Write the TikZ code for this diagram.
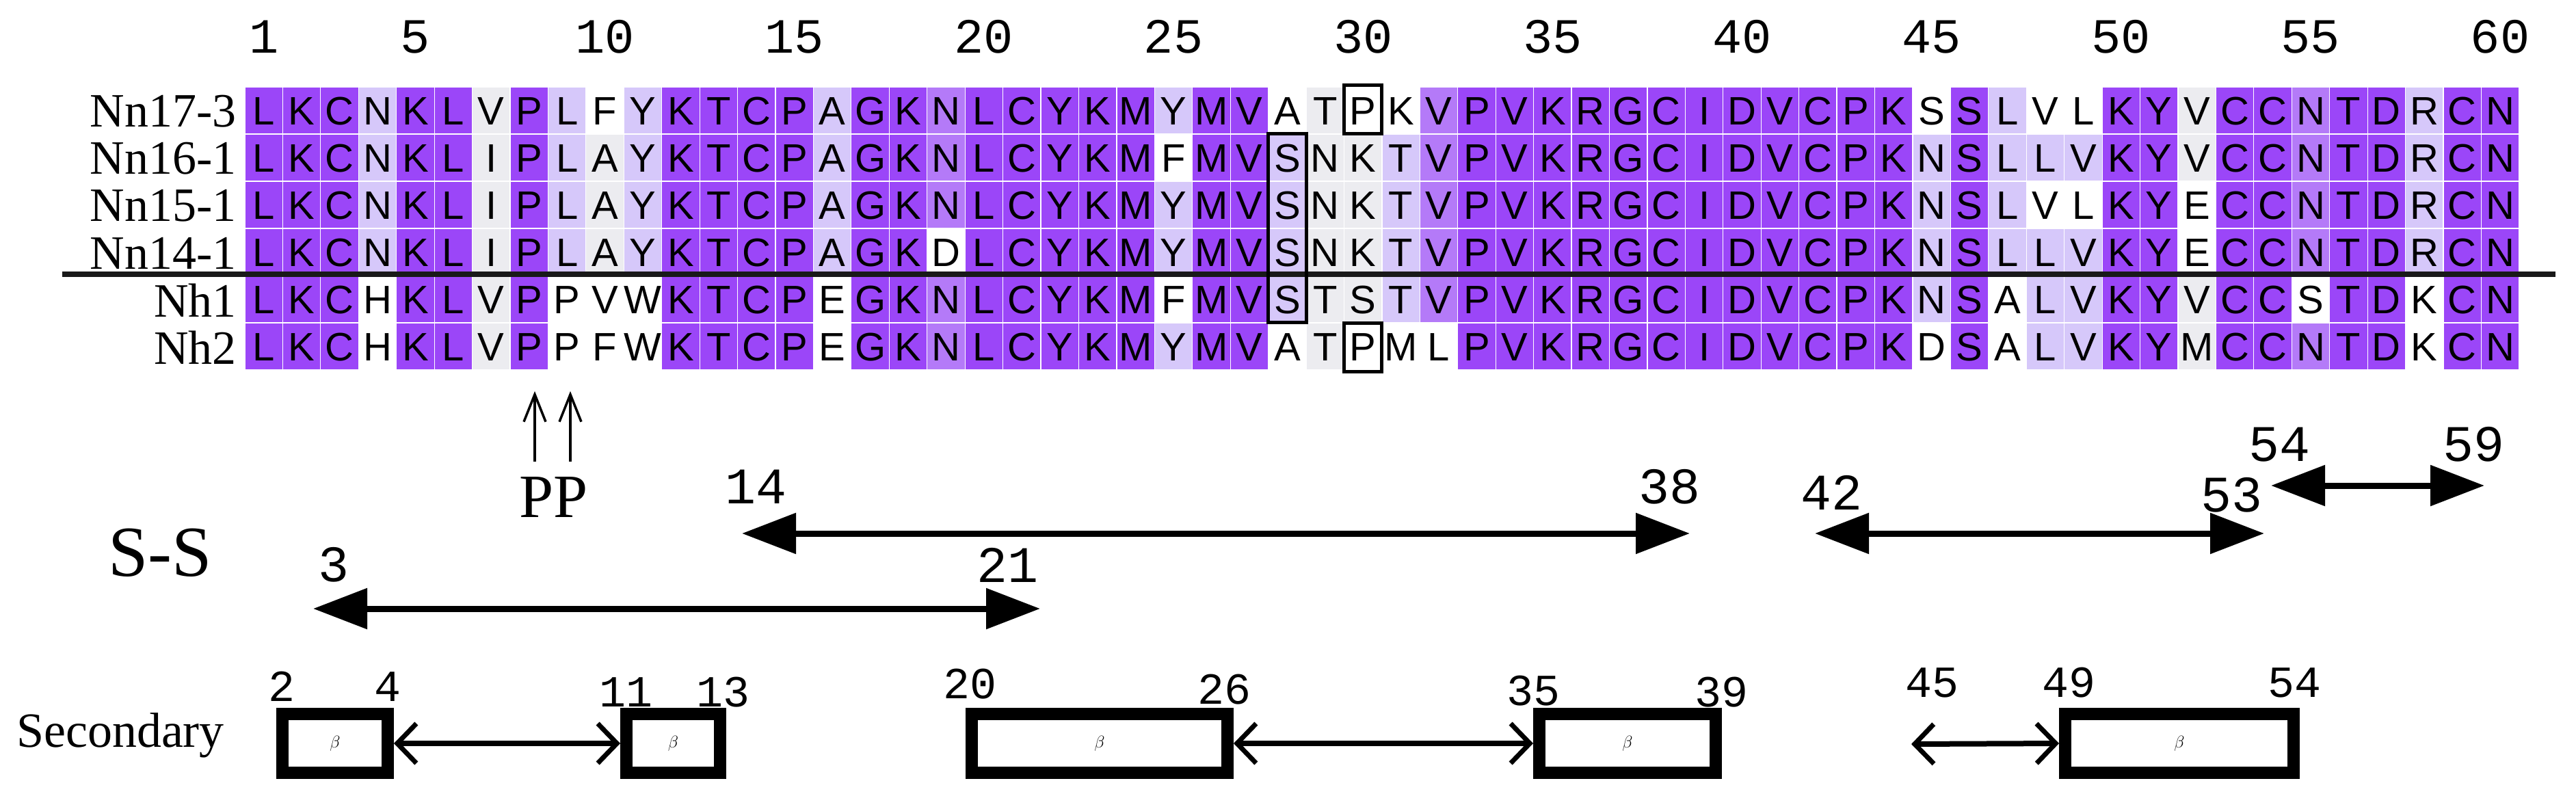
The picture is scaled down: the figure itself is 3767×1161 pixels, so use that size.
\documentclass[tikz,border=0pt]{standalone}
\usepackage{fontspec}
\usepackage{xstring}
\setmainfont{Liberation Serif}
\newfontfamily\seqfont{Liberation Sans}
\newfontfamily\numfont{Liberation Mono}
\usetikzlibrary{arrows.meta}
\definecolor{cD}{RGB}{155,70,248}
\definecolor{cM}{RGB}{180,122,248}
\definecolor{cL}{RGB}{214,200,250}
\definecolor{cG}{RGB}{236,236,240}
\definecolor{cW}{RGB}{255,255,255}
\tikzset{
  seqletter/.style={font=\seqfont\fontsize{58}{60}\selectfont,inner sep=0pt},
  rowlabel/.style={font=\fontsize{70}{72}\selectfont,anchor=east,inner sep=0pt},
  colnum/.style={font=\numfont\fontsize{72}{74}\selectfont,inner sep=0pt},
  secnum/.style={font=\numfont\fontsize{65}{67}\selectfont,inner sep=0pt},
  ssnum/.style={font=\numfont\fontsize{75}{77}\selectfont,inner sep=0pt},
  ssarrow/.style={line width=9pt,{Triangle[length=79pt,width=58pt]}-{Triangle[length=79pt,width=58pt]}},
  secarrow/.style={line width=8pt,{Straight Barb[length=28pt,width=58pt,line width=7pt]}-{Straight Barb[length=28pt,width=58pt,line width=7pt]}},
  betabox/.style={draw,line width=18pt,inner sep=0pt,font=\fontsize{65}{67}\selectfont},
  ppar/.style={line width=3.5pt,-{Straight Barb[length=40pt,width=32pt,line width=3.5pt]}},
  mark box/.style={draw,line width=5pt}
}
\begin{document}
\begin{tikzpicture}[x=1pt,y=-1pt]
\useasboundingbox (0,0) rectangle (3767,1161);
\def\cw{55.43}
\def\xo{358}
% alignment cells
\foreach \lab/\seq/\col/\top [count=\r] in {
 Nn17-3/LKCNKLVPLFYKTCPAGKNLCYKMYMVATPKVPVKRGCIDVCPKSSLVLKYVCCNTDRCN/DDDLDDGDLWLDDDDLDDMDDDDDLDDWGWWMDDDDDDDDDDDDWDLWWDDGDDMDDLDD/127,
 Nn16-1/LKCNKLIPLAYKTCPAGKNLCYKMFMVSNKTVPVKRGCIDVCPKNSLLVKYVCCNTDRCN/DDDLDDGDLGLDDDDLDDMDDDDDWDDLGGLMDDDDDDDDDDDDLDLLLDDGDDMDDLDD/196,
 Nn15-1/LKCNKLIPLAYKTCPAGKNLCYKMYMVSNKTVPVKRGCIDVCPKNSLVLKYECCNTDRCN/DDDLDDGDLGLDDDDLDDMDDDDDLDDLGGLMDDDDDDDDDDDDLDLWWDDWDDMDDLDD/265,
 Nn14-1/LKCNKLIPLAYKTCPAGKDLCYKMYMVSNKTVPVKRGCIDVCPKNSLLVKYECCNTDRCN/DDDLDDGDLGLDDDDLDDWDDDDDLDDLGGLMDDDDDDDDDDDDLDLLLDDWDDMDDLDD/334,
 Nh1/LKCHKLVPPVWKTCPEGKNLCYKMFMVSTSTVPVKRGCIDVCPKNSALVKYVCCSTDKCN/DDDWDDGDWWWDDDDWDDMDDDDDWDDLGGLMDDDDDDDDDDDDLDWLLDDGDDWDDWDD/403,
 Nh2/LKCHKLVPPFWKTCPEGKNLCYKMYMVATPMLPVKRGCIDVCPKDSALVKYMCCNTDKCN/DDDWDDGDWWWDDDDWDDMDDDDDLDDWGWWWDDDDDDDDDDDDWDWLLDDGDDMDDWDD/472}{
  \foreach \i in {1,...,60}{
    \StrChar{\col}{\i}[\cc]
    \StrChar{\seq}{\i}[\aa]
    \fill[c\cc,draw=white,line width=1.2pt] ({\xo+(\i-1)*\cw},\top) rectangle ++(\cw,69);
    \node[seqletter] (s\r-\i) at ({\xo+(\i-0.5)*\cw},\top+36) {\aa};
  }
  \node[rowlabel] (lab\r) at (346,\top+36) {\lab};
}
% column numbers
\foreach \n in {1,5,10,...,60}{
  \node[colnum] (cn\n) at ({\xo+(\n-0.5)*\cw},54) {\n};
}
% separator line
\coordinate (sepL) at (91,401);
\coordinate (sepR) at (3737,401);
\draw[line width=8pt,black!90] (sepL) -- (sepR);
% marked boxes
\draw[mark box] ({\xo+27*\cw},196) rectangle ({\xo+28*\cw},471);
\draw[mark box] ({\xo+29*\cw},125) rectangle ({\xo+30*\cw},196);
\draw[mark box] ({\xo+29*\cw},472) rectangle ({\xo+30*\cw},543);
% PP
\coordinate (pa1) at (782,675); \coordinate (pb1) at (782,572);
\coordinate (pa2) at (834,675); \coordinate (pb2) at (834,572);
\draw[ppar] (pa1) -- (pb1);
\draw[ppar] (pa2) -- (pb2);
\node[font=\fontsize{90}{92}\selectfont,inner sep=0pt] (pp) at (810,727) {PP};
% S-S
\node[font=\fontsize{105}{107}\selectfont,inner sep=0pt] (ss) at (234,808) {S-S};
\coordinate (a3) at (458,890); \coordinate (a21) at (1521,890);
\coordinate (a14) at (1085,780); \coordinate (a38) at (2471,780);
\coordinate (a42) at (2654,780); \coordinate (a53) at (3311,780);
\coordinate (a54) at (3321,710); \coordinate (a59) at (3633,710);
\draw[ssarrow] (a3) -- (a21);
\draw[ssarrow] (a14) -- (a38);
\draw[ssarrow] (a42) -- (a53);
\draw[ssarrow] (a54) -- (a59);
\node[ssnum] (n3) at (488,826) {3};
\node[ssnum] (n21) at (1473,826) {21};
\node[ssnum] (n14) at (1105,712) {14};
\node[ssnum] (n38) at (2441,712) {38};
\node[ssnum] (n42) at (2678,720) {42};
\node[ssnum] (n53) at (3263,724) {53};
\node[ssnum] (n54) at (3333,650) {54};
\node[ssnum] (n59) at (3617,650) {59};
% Secondary
\node[font=\fontsize{72}{74}\selectfont,inner sep=0pt] (sec) at (176,1075) {Secondary};
\node[betabox,minimum width=154pt,minimum height=86pt] (b1) at (490,1087) {$\beta$};
\node[betabox,minimum width=137pt,minimum height=86pt] (b2) at (984.5,1087) {$\beta$};
\node[betabox,minimum width=374pt,minimum height=86pt] (b3) at (1608,1087) {$\beta$};
\node[betabox,minimum width=258pt,minimum height=86pt] (b4) at (2380,1087) {$\beta$};
\node[betabox,minimum width=334pt,minimum height=86pt] (b5) at (3187,1087) {$\beta$};
\coordinate (c45) at (2795,1088);
\draw[secarrow] (b1.east) -- (b2.west);
\draw[secarrow] (b3.east) -- (b4.west);
\draw[secarrow] (c45) -- (b5.west);
\node[secnum] (m2) at (412,1004) {2};
\node[secnum] (m4) at (567,1004) {4};
\node[secnum] (m11) at (915,1012) {11};
\node[secnum] (m13) at (1057,1012) {13};
\node[secnum] (m20) at (1418,1000) {20};
\node[secnum] (m26) at (1790,1008) {26};
\node[secnum] (m35) at (2242,1010) {35};
\node[secnum] (m39) at (2517,1012) {39};
\node[secnum] (m45) at (2825,998) {45};
\node[secnum] (m49) at (3025,998) {49};
\node[secnum] (m54) at (3355,998) {54};
\end{tikzpicture}
\end{document}
